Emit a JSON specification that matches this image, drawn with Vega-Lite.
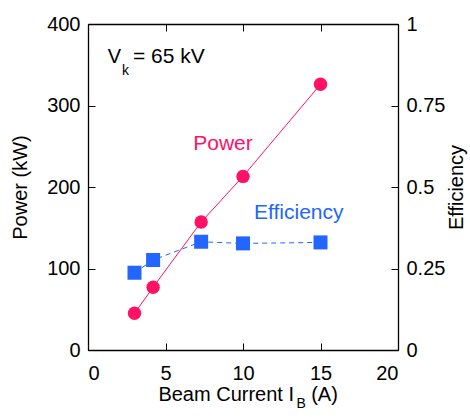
{
  "$schema": "https://vega.github.io/schema/vega-lite/v6.json",
  "autosize": {"type": "none"},
  "padding": {"left": 88, "top": 24, "right": 72, "bottom": 67},
  "width": 310,
  "height": 326,
  "config": {
    "view": {"stroke": null},
    "font": "Liberation Sans",
    "axis": {
      "grid": false,
      "domainColor": "black",
      "domainWidth": 1.3,
      "tickColor": "black",
      "tickSize": -7,
      "tickWidth": 1,
      "labelFont": "Liberation Sans",
      "labelFontSize": 20,
      "labelColor": "black",
      "labelExpr": "'' + datum.value",
      "titleFont": "Liberation Sans",
      "titleFontSize": 20,
      "titleFontWeight": "normal",
      "titleColor": "black"
    }
  },
  "datasets": {
    "power": [
      {"current": 3.0, "power": 45},
      {"current": 4.2, "power": 77},
      {"current": 7.3, "power": 157},
      {"current": 10.0, "power": 213},
      {"current": 15.0, "power": 326}
    ],
    "eff": [
      {"current": 3.0, "efficiency": 0.237},
      {"current": 4.2, "efficiency": 0.276},
      {"current": 7.3, "efficiency": 0.332},
      {"current": 10.0, "efficiency": 0.327},
      {"current": 15.0, "efficiency": 0.33}
    ]
  },
  "layer": [
    {
      "layer": [
        {"data": {"name": "power"}, "mark": {"type": "line", "color": "#FF1166", "strokeWidth": 1},
         "encoding": {
          "x": {
            "field": "current", "type": "quantitative",
            "scale": {"domain": [0, 20], "nice": false, "zero": false},
            "axis": {"orient": "bottom", "values": [0, 5, 10, 15, 20], "title": null, "labelPadding": 20}
          },
          "y": {
            "field": "power", "type": "quantitative",
            "scale": {"domain": [0, 400], "nice": false},
            "axis": {"orient": "left", "values": [0, 100, 200, 300, 400], "title": "Power (kW)", "labelPadding": 15, "titlePadding": 16}
          }
         }},
        {"data": {"name": "power"}, "mark": {"type": "circle", "color": "#FF1166", "opacity": 1, "size": 180},
         "encoding": {"x": {"field": "current", "type": "quantitative"}, "y": {"field": "power", "type": "quantitative"}}},
        {"data": {"values": [{"t": "Power"}]}, "mark": {"type": "text", "fontSize": 21, "fill": "#FF1166", "align": "left", "baseline": "alphabetic"},
         "encoding": {"text": {"field": "t"}, "x": {"datum": 6.79}, "y": {"datum": 245.4}}},
        {"data": {"values": [{"t": "Efficiency"}]}, "mark": {"type": "text", "fontSize": 21, "fill": "#2266FF", "align": "left", "baseline": "alphabetic"},
         "encoding": {"text": {"field": "t"}, "x": {"datum": 10.71}, "y": {"datum": 160.7}}},
        {"data": {"values": [{"t": "V"}]}, "mark": {"type": "text", "fontSize": 20, "fill": "black", "align": "left", "baseline": "alphabetic"},
         "encoding": {"text": {"field": "t"}, "x": {"datum": 1.27}, "y": {"datum": 351.8}}},
        {"data": {"values": [{"t": "k"}]}, "mark": {"type": "text", "fontSize": 14, "fill": "black", "align": "center", "baseline": "alphabetic"},
         "encoding": {"text": {"field": "t"}, "x": {"datum": 2.42}, "y": {"datum": 337}}},
        {"data": {"values": [{"t": "= 65 kV"}]}, "mark": {"type": "text", "fontSize": 21, "fill": "black", "align": "left", "baseline": "alphabetic"},
         "encoding": {"text": {"field": "t"}, "x": {"datum": 2.9}, "y": {"datum": 351.8}}},
        {"data": {"values": [{"t": "Beam Current I"}]}, "mark": {"type": "text", "fontSize": 20, "fill": "black", "align": "right", "baseline": "alphabetic"},
         "encoding": {"text": {"field": "t"}, "x": {"datum": 13.29}, "y": {"datum": -62.2}}},
        {"data": {"values": [{"t": "B"}]}, "mark": {"type": "text", "fontSize": 14, "fill": "black", "align": "center", "baseline": "alphabetic"},
         "encoding": {"text": {"field": "t"}, "x": {"datum": 13.75}, "y": {"datum": -71}}},
        {"data": {"values": [{"t": "(A)"}]}, "mark": {"type": "text", "fontSize": 20, "fill": "black", "align": "left", "baseline": "alphabetic"},
         "encoding": {"text": {"field": "t"}, "x": {"datum": 14.4}, "y": {"datum": -62.2}}}
      ]
    },
    {
      "data": {"name": "eff"},
      "encoding": {
        "x": {
          "field": "current", "type": "quantitative",
          "scale": {"domain": [0, 20], "nice": false, "zero": false},
          "axis": {"orient": "top", "values": [0, 5, 10, 15, 20], "title": null, "labels": false}
        },
        "y": {
          "field": "efficiency", "type": "quantitative",
          "scale": {"domain": [0, 1], "nice": false},
          "axis": {"orient": "right", "values": [0, 0.25, 0.5, 0.75, 1], "title": "Efficiency", "titleAngle": -90, "titleBaseline": "top", "labelPadding": 15, "titlePadding": 2}
        }
      },
      "layer": [
        {"mark": {"type": "line", "color": "#2266FF", "strokeWidth": 1, "strokeDash": [5, 4]}},
        {"mark": {"type": "square", "color": "#2266FF", "opacity": 1, "size": 196}}
      ]
    }
  ],
  "resolve": {"scale": {"y": "independent"}, "axis": {"x": "independent"}}
}
